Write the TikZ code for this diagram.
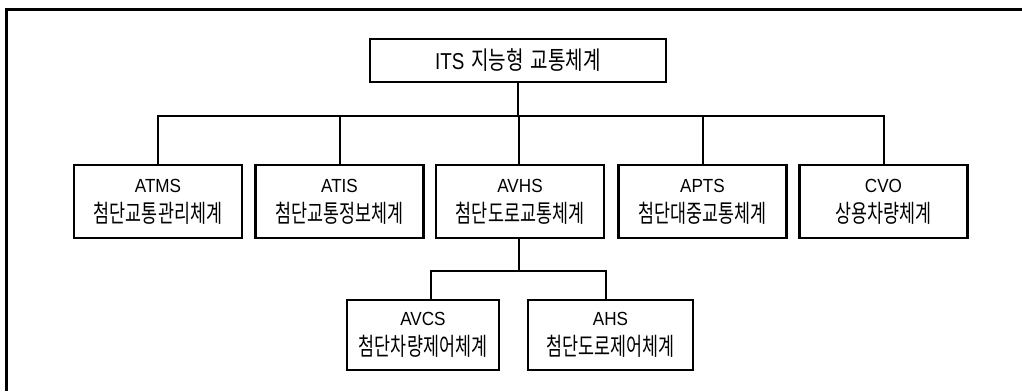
\documentclass[tikz,border=0pt]{standalone}
\usepackage{fontspec}
\newfontfamily\lat[FakeStretch=0.9]{Liberation Sans}
\newfontfamily\latt[FakeStretch=0.82]{Liberation Sans}
\newfontfamily\kr[FakeStretch=0.71]{Noto Sans CJK KR}
\newfontfamily\krt[FakeStretch=0.76]{Noto Sans CJK KR}
\newcommand\twoline[2]{{\lat\fontsize{19}{30}\selectfont #1}\\{\kr\fontsize{24.5}{30}\selectfont #2}}
\tikzset{
  box/.style={draw, line width=2.2pt, rectangle, inner sep=0pt, align=center,
    font=\fontsize{19}{30}\selectfont},
  wbox/.style={box, minimum width=168pt, minimum height=73pt},
  link/.style={line width=2pt},
  frame/.style={line width=2.4pt}
}
\begin{document}
\begin{tikzpicture}[x=1pt,y=-1pt]
\useasboundingbox (0,0) rectangle (1022,391);
% outer frame (top and left edges)
\coordinate (ftl) at (6.5,9.5);
\coordinate (ftr) at (1022,9.5);
\coordinate (fbl) at (6.5,391);
\draw[frame] (fbl) -- (ftl) -- (ftr);
% title
\node[box, minimum width=296pt, minimum height=43pt] (its) at (518,60.5)
  {{\latt\fontsize{23}{26}\selectfont ITS}\hspace{7pt}{\krt\fontsize{25}{26}\selectfont 지능형\hspace{7pt}교통체계}};
% first row
\node[wbox] (atms) at (158,201.5) {\twoline{ATMS}{첨단교통관리체계}};
\node[wbox] (atis) at (339.5,201.5) {\twoline{ATIS}{첨단교통정보체계}};
\node[wbox] (avhs) at (520,201.5) {\twoline{AVHS}{첨단도로교통체계}};
\node[wbox] (apts) at (702.5,201.5) {\twoline{APTS}{첨단대중교통체계}};
\node[wbox] (cvo) at (883.5,201.5) {\twoline{CVO}{상용차량체계}};
% second row
\node[box, minimum width=152pt, minimum height=70pt] (avcs) at (423,335) {\twoline{AVCS}{첨단차량제어체계}};
\node[box, minimum width=165pt, minimum height=70pt] (ahs) at (610.5,335) {\twoline{AHS}{첨단도로제어체계}};
% connectors
\coordinate (bus) at (518,116);
\draw[link] (its.south) -- (bus);
\draw[link] (atms.north) |- (bus) -| (cvo.north);
\draw[link] (atis.north) -- (atis.north |- bus);
\draw[link] ([xshift=-1pt]avhs.north) -- ([xshift=-1pt]avhs.north |- bus);
\draw[link] (apts.north) -- (apts.north |- bus);
\coordinate (bus2) at (519,271);
\draw[link] ([xshift=-1pt]avhs.south) -- (bus2);
\draw[link] ([xshift=8pt]avcs.north) |- (bus2) -| ([xshift=-4.5pt]ahs.north);
\end{tikzpicture}
\end{document}
